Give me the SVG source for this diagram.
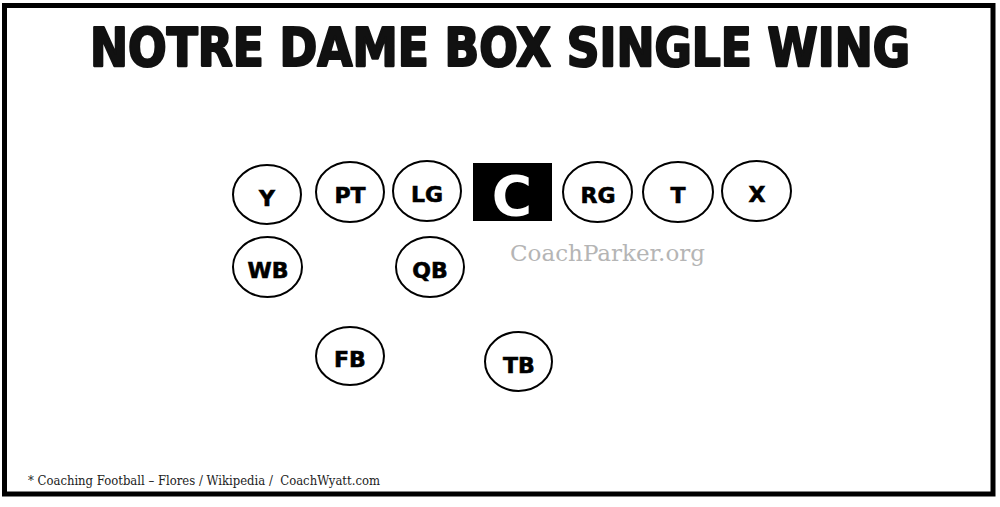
<svg xmlns="http://www.w3.org/2000/svg" width="1000" height="507" viewBox="0 0 1000 507">
<style>
.pos ellipse{fill:#fff;stroke:#000;stroke-width:2}
.lbl{font-family:"DejaVu Sans","Verdana",sans-serif;font-weight:bold;font-size:22px;text-anchor:middle;fill:#000;stroke:#000;stroke-width:0.6}
</style>
<rect width="1000" height="507" fill="#fff"/>
<rect x="4.5" y="5.5" width="988.5" height="488.5" fill="none" stroke="#000" stroke-width="5"/>
<text x="500" y="66" text-anchor="middle" font-family="'Liberation Sans Narrow','DejaVu Sans',sans-serif" font-stretch="condensed" font-weight="900" font-size="53" textLength="820" lengthAdjust="spacingAndGlyphs" fill="#111" stroke="#111" stroke-width="2.2" stroke-linejoin="round">NOTRE DAME BOX SINGLE WING</text>
<g id="connectors"></g>
<g id="node-Y" class="pos"><ellipse cx="267" cy="194.5" rx="34" ry="29.5"/><text class="lbl" x="267" y="206">Y</text></g>
<g id="node-PT" class="pos"><ellipse cx="350" cy="192" rx="34" ry="30"/><text class="lbl" x="350" y="203">PT</text></g>
<g id="node-LG" class="pos"><ellipse cx="427" cy="191" rx="34" ry="30"/><text class="lbl" x="427" y="202">LG</text></g>
<g id="node-C"><rect x="473" y="163" width="79" height="58" fill="#000"/><text x="512" y="215" text-anchor="middle" font-family="'DejaVu Sans',sans-serif" font-weight="bold" font-size="55" fill="#fff">C</text></g>
<g id="node-RG" class="pos"><ellipse cx="597.5" cy="192" rx="34.5" ry="30"/><text class="lbl" x="598" y="203">RG</text></g>
<g id="node-T" class="pos"><ellipse cx="678" cy="192" rx="35" ry="30"/><text class="lbl" x="678" y="203">T</text></g>
<g id="node-X" class="pos"><ellipse cx="756.5" cy="191" rx="34.5" ry="30"/><text class="lbl" x="757" y="202">X</text></g>
<g id="node-WB" class="pos"><ellipse cx="267.5" cy="267" rx="34.5" ry="30"/><text class="lbl" x="268" y="278">WB</text></g>
<g id="node-QB" class="pos"><ellipse cx="430" cy="267" rx="34" ry="30"/><text class="lbl" x="430" y="278">QB</text></g>
<g id="node-FB" class="pos"><ellipse cx="350" cy="356" rx="34" ry="29"/><text class="lbl" x="350" y="367">FB</text></g>
<g id="node-TB" class="pos"><ellipse cx="518.5" cy="361.5" rx="33.5" ry="29.5"/><text class="lbl" x="519" y="373">TB</text></g>
<text x="510" y="261" font-family="'DejaVu Serif','Liberation Serif',serif" font-size="22" textLength="195" lengthAdjust="spacingAndGlyphs" fill="#b5b5b5">CoachParker.org</text>
<text x="28" y="485" xml:space="preserve" font-family="'DejaVu Serif','Liberation Serif',serif" font-size="12.5" textLength="352" lengthAdjust="spacingAndGlyphs" fill="#222">* Coaching Football – Flores / Wikipedia /  CoachWyatt.com</text>
</svg>
